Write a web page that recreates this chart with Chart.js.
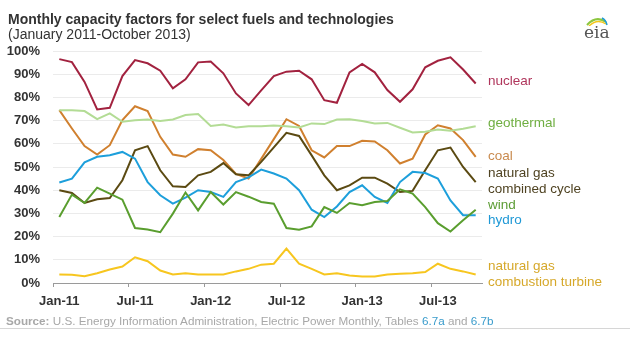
<!DOCTYPE html>
<html lang="en">
<head>
<meta charset="UTF-8">
<title>Monthly capacity factors</title>
<script src="https://cdn.jsdelivr.net/npm/chart.js"></script>
<style>
    body { margin: 0; background: #fff; }
    #tudo { position: relative; width: 630px; height: 337px; overflow: hidden; font-family: "Liberation Sans", Arial, sans-serif; }
    #grafico { position: absolute; left: 0; top: 0; }
    .titulo { position: absolute; left: 8px; top: 11px; font-size: 14px; font-weight: bold; color: #333; white-space: nowrap; }
    .subtitulo { position: absolute; left: 8px; top: 26px; font-size: 14px; color: #333; white-space: nowrap; }
    .rotulo { position: absolute; left: 488px; font-size: 13.5px; line-height: 16px; white-space: nowrap; }
    .fonte { position: absolute; left: 6px; top: 314px; font-size: 11.7px; color: #a8a8a8; white-space: nowrap; }
    .fonte b { color: #a8a8a8; }
    .fonte span { color: #3a9ccc; }
    .linha { position: absolute; left: 0; top: 328px; width: 630px; height: 1px; background: #d6d6d6; }
    .logo { position: absolute; left: 582px; top: 14px; width: 30px; height: 30px; }
    .logo div { position: absolute; left: 2px; top: 8px; font-family: "DejaVu Serif", "Liberation Serif", serif; font-size: 17px; color: #555; }
</style>
</head>
<body>
<div id="tudo">
    <canvas id="grafico" width="630" height="337"></canvas>
    <div class="titulo">Monthly capacity factors for select fuels and technologies</div>
    <div class="subtitulo">(January 2011-October 2013)</div>

    <div class="rotulo" style="top:73px; color:#b0365c;">nuclear</div>
    <div class="rotulo" style="top:115px; color:#6fae41;">geothermal</div>
    <div class="rotulo" style="top:148px; color:#c98a4e;">coal</div>
    <div class="rotulo" style="top:165px; color:#4f4322;">natural gas<br>combined cycle</div>
    <div class="rotulo" style="top:197px; color:#5c9c34;">wind</div>
    <div class="rotulo" style="top:212px; color:#2099d6;">hydro</div>
    <div class="rotulo" style="top:258px; color:#d6a82a;">natural gas<br>combustion turbine</div>

    <div class="logo">
        <svg width="30" height="12" style="position:absolute;left:0;top:0">
            <path d="M5 11 Q14 1 24 8" stroke="#8cc63f" stroke-width="2" fill="none"/>
            <path d="M7 12 Q15 4 24 10" stroke="#f5c518" stroke-width="1.5" fill="none"/>
            <path d="M20 4 Q24 6 25 11" stroke="#1e9ad6" stroke-width="1.5" fill="none"/>
        </svg>
        <div>eia</div>
    </div>

    <div class="fonte"><b>Source:</b> U.S. Energy Information Administration, Electric Power Monthly, Tables <span>6.7a</span> and <span>6.7b</span></div>
    <div class="linha"></div>
</div>

<script>
    // meses de jan/2011 ate out/2013
    var meses = [
        'Jan-11', 'Feb-11', 'Mar-11', 'Apr-11', 'May-11', 'Jun-11', 'Jul-11', 'Aug-11', 'Sep-11', 'Oct-11', 'Nov-11', 'Dec-11',
        'Jan-12', 'Feb-12', 'Mar-12', 'Apr-12', 'May-12', 'Jun-12', 'Jul-12', 'Aug-12', 'Sep-12', 'Oct-12', 'Nov-12', 'Dec-12',
        'Jan-13', 'Feb-13', 'Mar-13', 'Apr-13', 'May-13', 'Jun-13', 'Jul-13', 'Aug-13', 'Sep-13', 'Oct-13'
    ];

    // fator de capacidade (%)
    var nuclear = [96.5, 95.2, 86.7, 74.8, 75.5, 89.2, 96.1, 94.7, 91.5, 83.9, 87.8, 95.1,
        95.5, 90.4, 81.7, 76.7, 83.0, 89.2, 91.1, 91.5, 87.8, 78.8, 77.7, 90.8,
        94.4, 90.8, 83.2, 78.1, 83.5, 93.0, 95.8, 97.3, 92.0, 86.0];
    var geotermica = [74.5, 74.5, 74.1, 70.6, 73.1, 69.5, 70.2, 70.5, 69.8, 70.5, 72.4, 72.8,
        67.7, 68.3, 67.0, 67.6, 67.6, 67.9, 67.6, 67.0, 68.8, 68.5, 70.5, 70.6,
        69.8, 68.8, 69.0, 66.9, 64.9, 65.2, 66.2, 65.6, 66.5, 67.6];
    var carvao = [74.5, 66.6, 59.0, 55.4, 59.4, 70.2, 76.2, 74.1, 63.0, 55.4, 54.4, 57.7,
        57.2, 53.0, 47.0, 45.0, 53.5, 62.0, 70.6, 67.7, 57.2, 54.1, 59.0, 59.0,
        61.3, 61.0, 57.2, 51.5, 53.6, 64.0, 68.0, 66.6, 61.6, 54.4];
    var gasCiclo = [40.0, 38.8, 34.5, 36.1, 36.6, 44.3, 57.2, 59.0, 48.6, 41.7, 41.4, 46.4,
        47.9, 51.7, 46.9, 46.4, 52.2, 58.5, 64.7, 63.4, 55.0, 46.4, 40.0, 42.1,
        45.4, 45.4, 42.8, 39.2, 39.7, 48.6, 57.2, 58.4, 50.0, 43.5];
    var eolica = [28.4, 38.1, 34.5, 41.1, 38.5, 35.9, 23.7, 23.1, 21.9, 29.9, 39.0, 31.3,
        39.2, 33.8, 39.2, 37.2, 34.9, 34.2, 23.7, 23.0, 24.4, 32.7, 30.2, 34.5,
        33.5, 34.9, 35.3, 40.4, 38.5, 32.7, 25.8, 22.2, 27.0, 31.6];
    var hidro = [43.3, 45.0, 52.0, 54.4, 55.1, 56.5, 53.6, 43.5, 37.8, 34.2, 36.8, 40.0,
        39.2, 37.1, 43.5, 45.5, 48.9, 47.2, 45.0, 40.0, 31.6, 28.4, 33.0, 39.2,
        42.1, 37.1, 34.5, 43.5, 47.9, 47.4, 45.0, 35.6, 29.2, 29.2];
    var gasTurbina = [3.7, 3.6, 2.9, 4.2, 5.8, 7.1, 11.1, 9.4, 5.4, 3.7, 4.2, 3.7,
        3.7, 3.7, 5.0, 6.1, 7.9, 8.3, 14.8, 8.3, 6.1, 3.7, 4.2, 3.2,
        2.8, 2.8, 3.7, 4.0, 4.2, 4.7, 8.3, 6.1, 5.0, 3.7];

    var eixoY = [0, 10, 20, 30, 40, 50, 60, 70, 80, 90, 100];

    function serie(dados, cor) {
        return {
            data: dados,
            borderColor: cor,
            borderWidth: 2,
            pointRadius: 0,
            tension: 0,
            fill: false
        };
    }

    var fonteEixo = { family: '"Liberation Sans", Arial, sans-serif', size: 13, weight: 'bold' };

    new Chart(document.getElementById('grafico'), {
        type: 'line',
        data: {
            labels: meses,
            datasets: [
                serie(gasTurbina, '#f7c61f'),
                serie(geotermica, '#b3dc95'),
                serie(eolica, '#5a9e2f'),
                serie(hidro, '#1d9fdb'),
                serie(gasCiclo, '#5b4a12'),
                serie(carvao, '#d0802f'),
                serie(nuclear, '#a2223f')
            ]
        },
        options: {
            responsive: false,
            animation: false,
            devicePixelRatio: 1,
            layout: { padding: { top: 51, right: 148, bottom: 0, left: 0 } },
            plugins: { legend: { display: false }, tooltip: { enabled: false } },
            scales: {
                x: {
                    offset: true,
                    grid: {
                        offset: true,
                        drawOnChartArea: false,
                        tickLength: 4,
                        tickColor: function (ctx) { return ctx.index % 6 === 0 ? '#9a9a9a' : 'rgba(0,0,0,0)'; }
                    },
                    border: { color: '#9a9a9a', width: 1 },
                    ticks: {
                        autoSkip: false,
                        maxRotation: 0,
                        padding: 7,
                        color: '#333',
                        font: fonteEixo,
                        callback: function (v, i) { return i % 6 === 0 ? meses[i] : ''; }
                    },
                    afterFit: function (s) { s.height = 54; }
                },
                y: {
                    min: 0,
                    max: 100,
                    afterBuildTicks: function (s) { s.ticks = eixoY.map(function (v) { return { value: v }; }); },
                    grid: { color: '#ebebeb', drawTicks: false },
                    border: { display: false },
                    ticks: {
                        padding: 13,
                        color: '#333',
                        font: fonteEixo,
                        callback: function (v) { return v + '%'; }
                    },
                    afterFit: function (s) { s.width = 53; }
                }
            }
        }
    });
</script>
</body>
</html>
